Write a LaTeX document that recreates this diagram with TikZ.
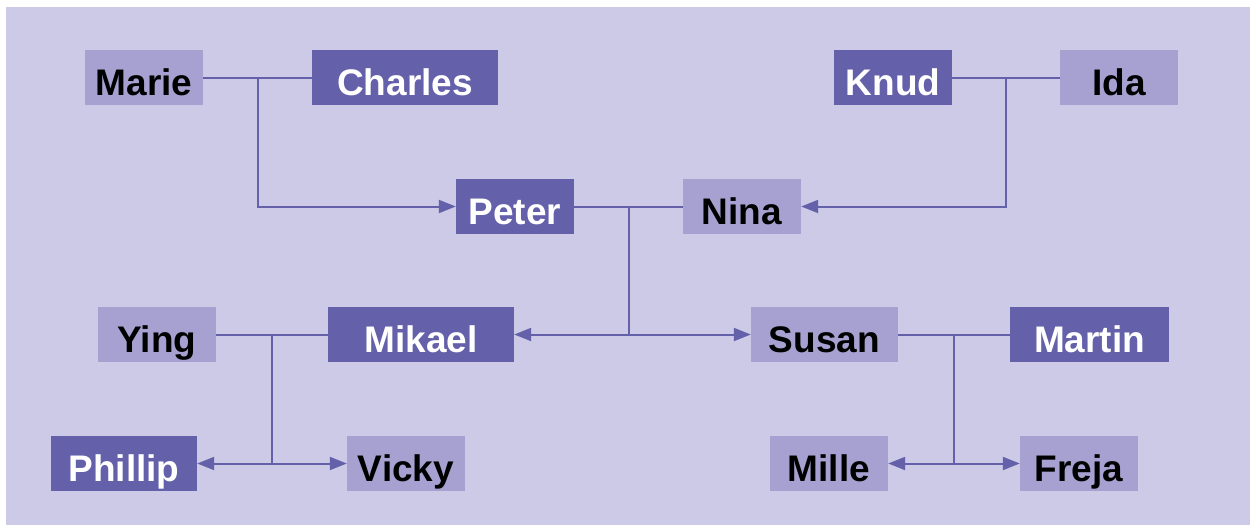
\documentclass[tikz,border=0pt]{standalone}
\usepackage{fontspec}
\setmainfont{Liberation Sans}
\usetikzlibrary{arrows.meta}
\definecolor{bgc}{RGB}{204,202,230}
\definecolor{lightc}{RGB}{166,161,208}
\definecolor{darkc}{RGB}{100,97,170}
\tikzset{
  person/.style={inner sep=0pt, minimum height=55pt, text height=35pt, text depth=0pt,
    font=\fontsize{37}{40}\selectfont\bfseries},
  lightbox/.style={person, fill=lightc, text=black},
  darkbox/.style={person, fill=darkc, text=white},
  link/.style={draw=darkc, line width=2pt},
  child/.style={link, -{Triangle[length=17pt,width=13pt]}}
}
\begin{document}
\begin{tikzpicture}[x=1pt,y=-1pt]
\useasboundingbox (0,0) rectangle (1254,525);
\fill[bgc] (6,7) rectangle (1250,525);
% generation 1
\node[lightbox, minimum width=118pt] (Marie)   at (144,77.5) {Marie};
\node[darkbox,  minimum width=186pt] (Charles) at (405,77.5) {Charles};
\node[darkbox,  minimum width=118pt] (Knud)    at (893,77.5) {Knud};
\node[lightbox, minimum width=118pt] (Ida)     at (1119,77.5) {Ida};
% generation 2
\node[darkbox,  minimum width=118pt] (Peter)   at (515,206.5) {Peter};
\node[lightbox, minimum width=118pt] (Nina)    at (742,206.5) {Nina};
% generation 3
\node[lightbox, minimum width=118pt] (Ying)    at (157,334.5) {Ying};
\node[darkbox,  minimum width=186pt] (Mikael)  at (421,334.5) {Mikael};
\node[lightbox, minimum width=147pt] (Susan)   at (824.5,334.5) {Susan};
\node[darkbox,  minimum width=159pt] (Martin)  at (1089.5,334.5) {Martin};
% generation 4
\node[darkbox,  minimum width=146pt] (Phillip) at (124,463.5) {Phillip};
\node[lightbox, minimum width=118pt] (Vicky)   at (406,463.5) {Vicky};
\node[lightbox, minimum width=118pt] (Mille)   at (829,463.5) {Mille};
\node[lightbox, minimum width=118pt] (Freja)   at (1079,463.5) {Freja};
% couple junctions
\path (Marie.east) -- (Charles.west) coordinate[pos=0.5] (mc);
\path (Knud.east) -- (Ida.west) coordinate[pos=0.5] (ki);
\path (Peter.east) -- (Nina.west) coordinate[pos=0.5] (pn);
\path (Ying.east) -- (Mikael.west) coordinate[pos=0.5] (ym);
\path (Susan.east) -- (Martin.west) coordinate[pos=0.5] (sm);
% couple lines
\draw[link] (Marie.east) -- (Charles.west);
\draw[link] (Knud.east) -- (Ida.west);
\draw[link] (Peter.east) -- (Nina.west);
\draw[link] (Ying.east) -- (Mikael.west);
\draw[link] (Susan.east) -- (Martin.west);
% descent
\draw[child] (mc) |- (Peter.west);
\draw[child] (ki) |- (Nina.east);
\draw[child] (pn) |- (Mikael.east);
\draw[child] (pn) |- (Susan.west);
\draw[child] (ym) |- (Phillip.east);
\draw[child] (ym) |- (Vicky.west);
\draw[child] (sm) |- (Mille.east);
\draw[child] (sm) |- (Freja.west);
\end{tikzpicture}
\end{document}
